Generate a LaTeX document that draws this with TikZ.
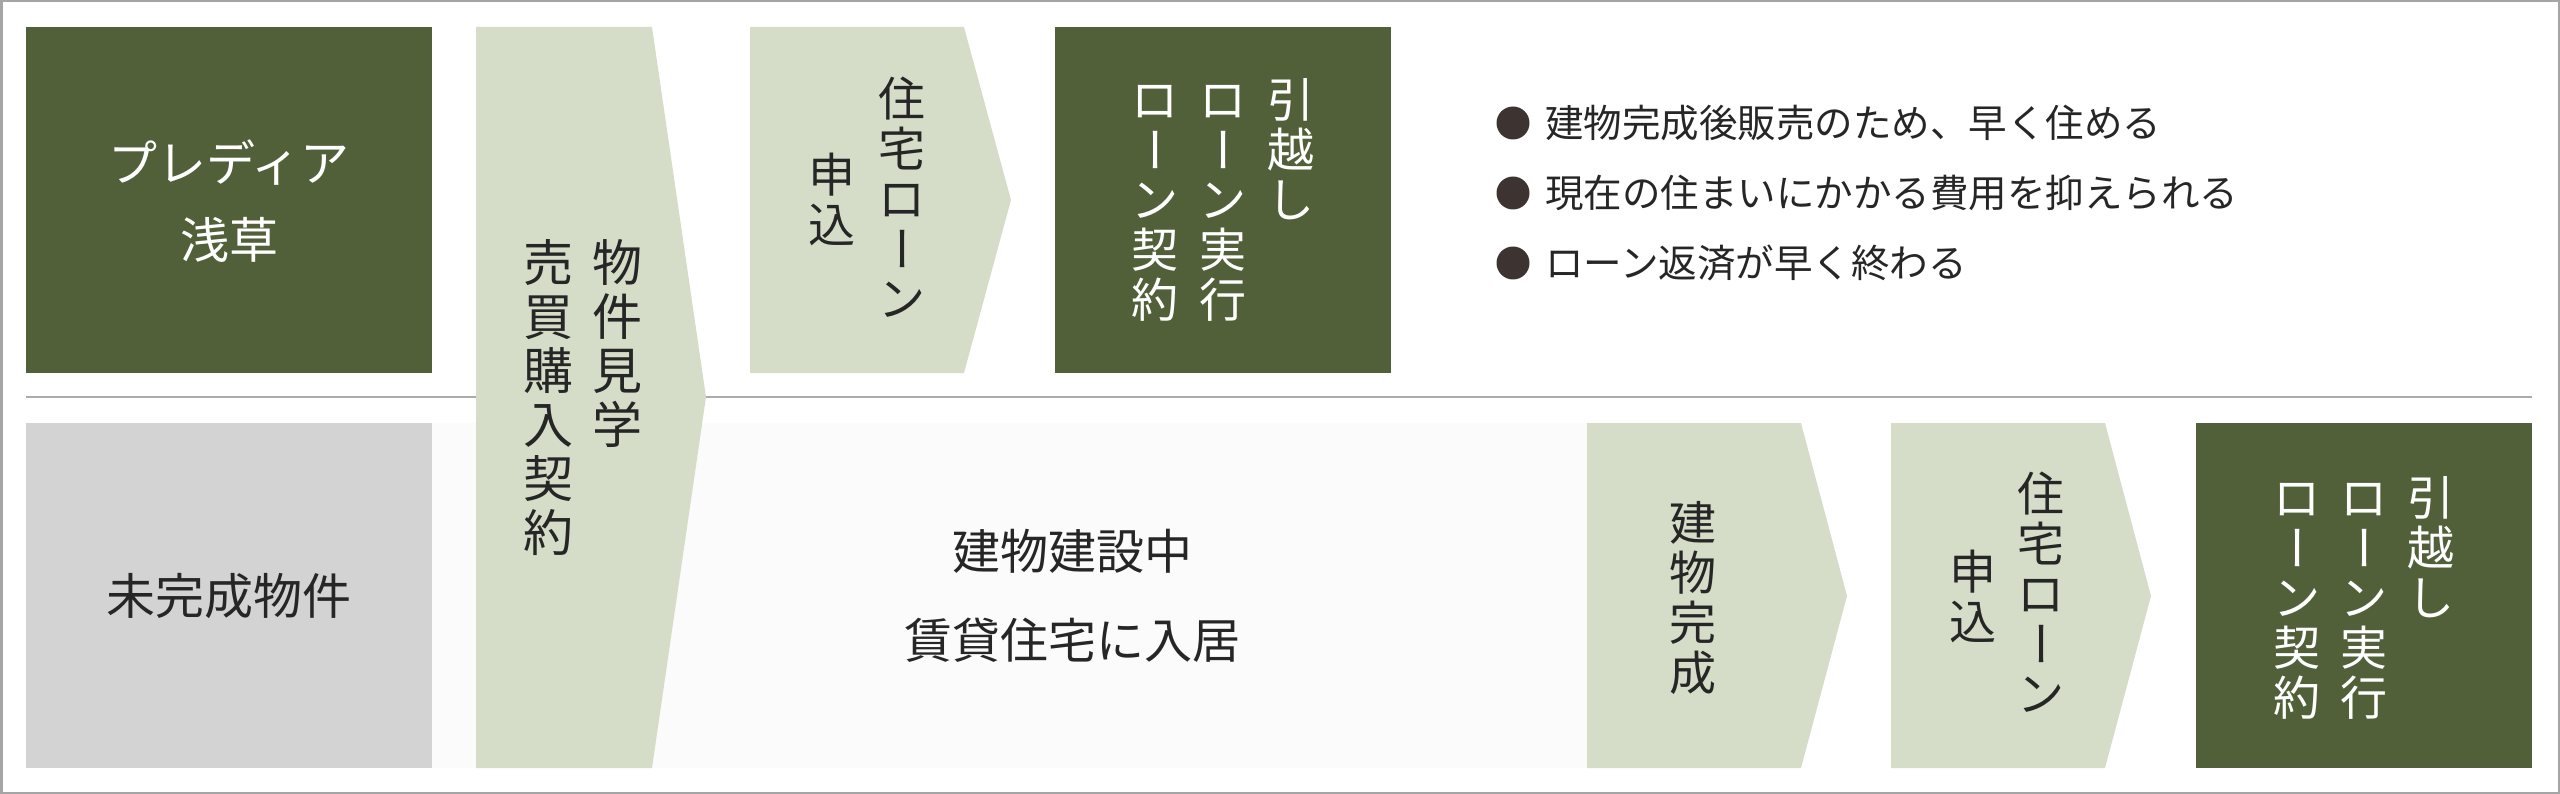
\documentclass[tikz,border=0pt]{standalone}
\usepackage{fontspec}
\setmainfont{Noto Sans CJK JP}
\usepackage{graphicx}
\definecolor{dgreen}{HTML}{52603A}
\definecolor{lgreen}{HTML}{D5DDC8}
\definecolor{pgray}{HTML}{D3D3D3}
\definecolor{faint}{HTML}{FBFBFB}
\definecolor{framegray}{HTML}{A5A5A5}
\definecolor{sepgray}{HTML}{ABABAB}
\definecolor{ink}{HTML}{262626}
\definecolor{dotc}{HTML}{3D3431}
\newcommand\jst{\rule[-0.12em]{0pt}{1em}}
\newcommand\vlong{\rotatebox[origin=c]{-90}{\raisebox{0pt}[0.88em][0.12em]{ー}}}
\tikzset{
  vcolP/.style={inner sep=0pt, align=center, font=\fontsize{50}{54}\selectfont, text=ink},
  vcol/.style={inner sep=0pt, align=center, font=\fontsize{47}{50}\selectfont, text=ink},
  vcolW/.style={vcol, text=white},
  htext/.style={inner sep=0pt, align=center, font=\fontsize{49}{77}\selectfont, text=ink},
  bultext/.style={inner sep=0pt, anchor=west, font=\fontsize{38.5}{40}\selectfont, text=ink},
  bul/.style={circle, fill=dotc, inner sep=0pt, minimum size=33pt},
  darkbox/.style={fill=dgreen},
  lightarrow/.style={fill=lgreen}
}
\begin{document}
\begin{tikzpicture}[x=1pt,y=-1pt]
\useasboundingbox (0,0) rectangle (2560,794);
% outer frame and separator
\draw[framegray, line width=2.5pt] (1.25,1.25) rectangle (2558.75,792.75);
\draw[sepgray, line width=2.5pt] (26,397) -- (2532,397);
% bottom background band
\fill[faint] (432,423) rectangle (1587,768);
% boxes
\fill[darkbox] (26,27) rectangle (432,373);
\fill[pgray] (26,423) rectangle (432,768);
\fill[darkbox] (1055,27) rectangle (1391,373);
\fill[darkbox] (2196,423) rectangle (2532,768);
% arrows
\fill[lightarrow] (476,27) -- (652,27) -- (706,397) -- (652,768) -- (476,768) -- cycle;
\fill[lightarrow] (750,27) -- (964,27) -- (1011,200) -- (964,373) -- (750,373) -- cycle;
\fill[lightarrow] (1587,423) -- (1801,423) -- (1847,596) -- (1801,768) -- (1587,768) -- cycle;
\fill[lightarrow] (1891,423) -- (2105,423) -- (2151,596) -- (2105,768) -- (1891,768) -- cycle;

% texts, top row
\node[htext, text=white] (pred) at (229,201) {\jst プレディア\\\jst 浅草};
\node[vcolP, anchor=north] (p1) at (617,237) {\jst 物\\\jst 件\\\jst 見\\\jst 学};
\node[vcolP, anchor=north] (p2) at (548,237) {\jst 売\\\jst 買\\\jst 購\\\jst 入\\\jst 契\\\jst 約};
\node[vcol] (q1) at (902,199) {\jst 住\\\jst 宅\\\jst ロ\\\jst\vlong\\\jst ン};
\node[vcol] (q2) at (832,200) {\jst 申\\\jst 込};
\node[vcolW, anchor=north] (d1) at (1291,76) {\jst 引\\\jst 越\\\jst し};
\node[vcolW, anchor=north] (d2) at (1223,76) {\jst ロ\\\jst\vlong\\\jst ン\\\jst 実\\\jst 行};
\node[vcolW, anchor=north] (d3) at (1155,76) {\jst ロ\\\jst\vlong\\\jst ン\\\jst 契\\\jst 約};

% bullets
\node[bul] (b1) at (1513,123) {};
\node[bul] (b2) at (1513,193) {};
\node[bul] (b3) at (1513,263) {};
\node[bultext] (t1) at (1545,123) {\jst 建物完成後販売のため、早く住める};
\node[bultext] (t2) at (1545,193) {\jst 現在の住まいにかかる費用を抑えられる};
\node[bultext] (t3) at (1545,263) {\jst ローン返済が早く終わる};

% texts, bottom row
\node[htext] (mikan) at (229,596) {\jst 未完成物件};
\node[htext, font=\fontsize{48}{89}\selectfont] (build) at (1072,596) {\jst 建物建設中\\\jst 賃貸住宅に入居};
\node[vcol] (r1) at (1693,598) {\jst 建\\\jst 物\\\jst 完\\\jst 成};
\node[vcol] (s1) at (2041,594) {\jst 住\\\jst 宅\\\jst ロ\\\jst\vlong\\\jst ン};
\node[vcol] (s2) at (1973,597) {\jst 申\\\jst 込};
\node[vcolW, anchor=north] (c1) at (2431,474) {\jst 引\\\jst 越\\\jst し};
\node[vcolW, anchor=north] (c2) at (2364,474) {\jst ロ\\\jst\vlong\\\jst ン\\\jst 実\\\jst 行};
\node[vcolW, anchor=north] (c3) at (2297,474) {\jst ロ\\\jst\vlong\\\jst ン\\\jst 契\\\jst 約};
\end{tikzpicture}
\end{document}
